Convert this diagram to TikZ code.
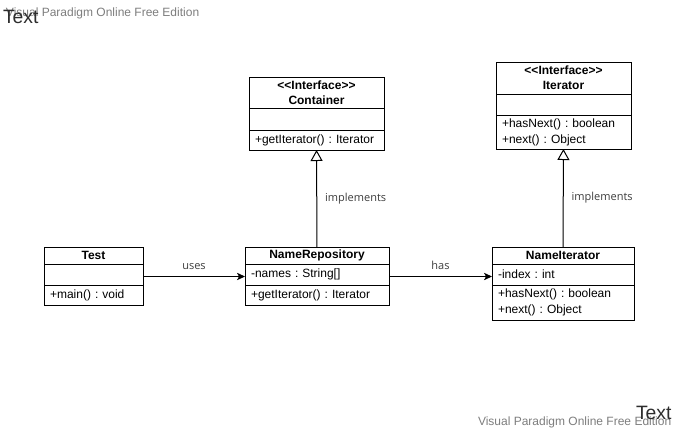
\documentclass[tikz,border=0pt]{standalone}
\usepackage{fontspec}
\setmainfont{Liberation Sans}
\newfontfamily\labelfont{Open Sans}
\usetikzlibrary{arrows.meta}
\definecolor{wmgray}{RGB}{125,125,125}
\definecolor{textgray}{RGB}{45,45,45}
\definecolor{labelgray}{RGB}{60,60,60}
\frenchspacing
\begin{document}
\begin{tikzpicture}[x=0.75pt,y=-0.75pt]
	\tikzstyle{every node}=[font=\fontsize{9}{12}\selectfont,outer sep=0pt]
	\tikzstyle{every edge}=[draw,line width=0.75pt,color=black]
	\tikzstyle{clsname}=[draw,line width=0.75pt,anchor=north west,align=center,inner sep=0pt,font=\fontsize{9}{11}\selectfont\bfseries]
	\tikzstyle{clspart}=[draw,line width=0.75pt,anchor=north west,align=left,inner xsep=4.5pt,inner ysep=0pt]
	\tikzstyle{edgelabel}=[font=\labelfont\fontsize{8.25}{10}\selectfont,color=labelgray]
	\tikzstyle{watermark}=[anchor=base west,inner sep=0pt,font=\fontsize{9}{10}\selectfont,color=wmgray]
	\tikzstyle{bigtext}=[anchor=base west,inner sep=0pt,font=\fontsize{14.5}{16}\selectfont,color=textgray]
	\useasboundingbox (0,0) rectangle (677,429);

	\node (testname) at (44,247) [clsname,minimum width=74.25pt,minimum height=12.75pt] {Test};
	\node (testattr) at (testname.south west) [clspart,text width=65.25pt,minimum height=15.75pt] {};
	\node (testops) at (testattr.south west) [clspart,text width=65.25pt,minimum height=15pt] {+main() : void};

	\node (reponame) at (245,247) [clsname,minimum width=108pt,minimum height=12.75pt] {NameRepository};
	\node (repoattr) at (reponame.south west) [clspart,text width=99pt,minimum height=15.75pt] {-names : String[]};
	\node (repoops) at (repoattr.south west) [clspart,text width=99pt,minimum height=15pt] {+getIterator() : Iterator};

	\node (itername) at (492,247) [clsname,minimum width=106.5pt,minimum height=12.75pt] {NameIterator};
	\node (iterattr) at (itername.south west) [clspart,text width=97.5pt,minimum height=15.75pt] {-index : int};
	\node (iterops) at (iterattr.south west) [clspart,text width=97.5pt,minimum height=26.25pt] {+hasNext() : boolean\\+next() : Object};

	\node (contname) at (249,77) [clsname,minimum width=101.25pt,minimum height=23.25pt] {<{}<Interface>{}>\\Container};
	\node (contattr) at (contname.south west) [clspart,text width=92.25pt,minimum height=16.5pt] {};
	\node (contops) at (contattr.south west) [clspart,text width=92.25pt,minimum height=15pt] {+getIterator() : Iterator};

	\node (ifname) at (496,62) [clsname,minimum width=101.25pt,minimum height=24pt] {<{}<Interface>{}>\\Iterator};
	\node (ifattr) at (ifname.south west) [clspart,text width=92.25pt,minimum height=15.75pt] {};
	\node (ifops) at (ifattr.south west) [clspart,text width=92.25pt,minimum height=25.5pt] {+hasNext() : boolean\\+next() : Object};

	\path [-{Stealth[length=6pt,width=5.5pt,inset=1.5pt]}] ([yshift=-1.5pt]testattr.east) edge node[edgelabel,above,yshift=2pt] {uses} ([yshift=-1.5pt]repoattr.west);
	\path [-{Stealth[length=6pt,width=5.5pt,inset=1.5pt]}] ([yshift=-1.5pt]repoattr.east) edge node[edgelabel,above,yshift=2pt] {has} ([yshift=-1.5pt]iterattr.west);

	\path [-{Triangle[open,length=8.25pt,width=9pt]}] (reponame) edge node[edgelabel,right,xshift=3pt,pos=0.5] {implements} (contops);
	\path [-{Triangle[open,length=8.25pt,width=9pt]}] (itername) edge node[edgelabel,right,xshift=3pt,pos=0.5] {implements} (ifops);

	\node (wmtop) at (6,16.5) [watermark] {Visual Paradigm Online Free Edition};
	\node (texttop) at (3,23.5) [bigtext] {Text};
	\node (wmbottom) at (478,425) [watermark] {Visual Paradigm Online Free Edition};
	\node (textbottom) at (636,419) [bigtext] {Text};
\end{tikzpicture}
\end{document}
